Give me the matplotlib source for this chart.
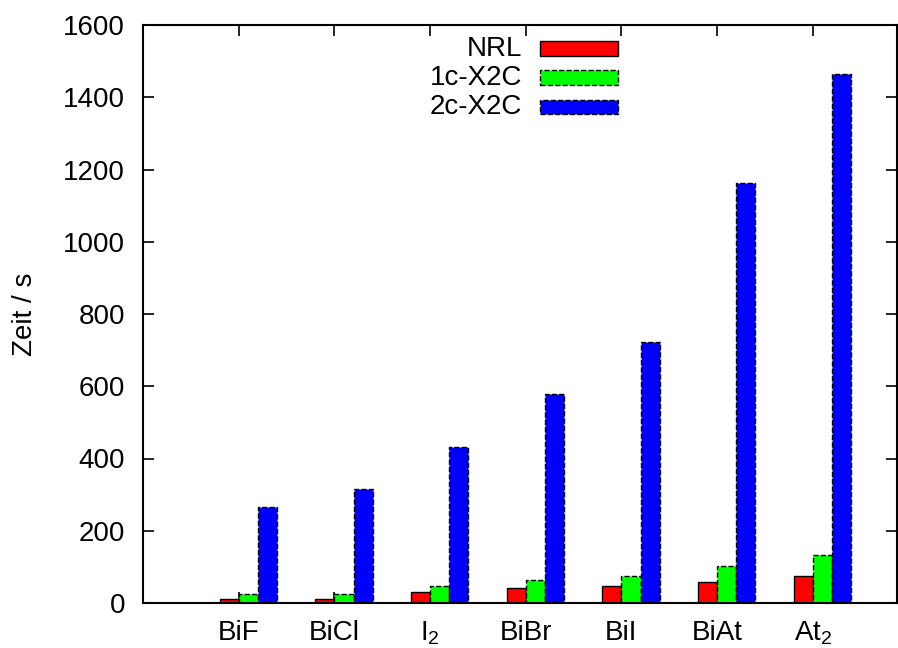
import numpy as np
import matplotlib
matplotlib.use("Agg")
import matplotlib.pyplot as plt
from matplotlib.patches import Rectangle

plt.rcParams['font.family'] = ['Liberation Sans', 'DejaVu Sans']

molecules = ['BiF', 'BiCl', r'$\mathregular{I_2}$', 'BiBr', 'BiI', 'BiAt', r'$\mathregular{At_2}$']
nrl = [10, 12, 31, 41, 46, 59, 75]
x2c_1c = [25, 25, 48, 64, 74, 103, 132]
x2c_2c = [265, 316, 433, 578, 722, 1162, 1464]

series = [
    ('NRL', nrl, '#ff0000', '-'),
    ('1c-X2C', x2c_1c, '#00ff00', '--'),
    ('2c-X2C', x2c_2c, '#0000ff', '--'),
]

fig = plt.figure(figsize=(8.98, 6.48), dpi=100)
ax = fig.add_axes([143 / 898, 1 - 603 / 648, 754 / 898, 578 / 648])

x = np.arange(len(molecules))
w = 0.2
for k, (name, vals, col, ls) in enumerate(series):
    ax.bar(x - w + k * w, vals, width=w, align='edge', color=col,
           edgecolor='black', linewidth=1.0, linestyle=ls, zorder=2)

ax.set_xlim(-1, 6.88)
ax.set_ylim(0, 1600)
ax.set_yticks(range(0, 1601, 200))
ax.set_xticks(x)
ax.set_xticklabels(molecules)
ax.tick_params(axis='both', direction='in', length=8, width=1.2,
               labelsize=20, top=True, right=True)
ax.tick_params(axis='x', pad=12)
ax.tick_params(axis='y', pad=13)
for s in ax.spines.values():
    s.set_linewidth(1.5)
ax.set_ylabel('Zeit / s', fontsize=20, labelpad=18)

# legend drawn by hand: labels right-aligned, swatch on the right
rows_y = [0.9593, 0.909, 0.858]
for (name, vals, col, ls), ry in zip(series, rows_y):
    ax.text(0.5027, ry, name, transform=ax.transAxes, ha='right', va='center',
            fontsize=20)
    ax.add_patch(Rectangle((0.5265, ry - 0.0125), 0.1035, 0.025,
                           transform=ax.transAxes, facecolor=col,
                           edgecolor='black', linewidth=1.0, linestyle=ls,
                           clip_on=False, zorder=3))

fig.savefig('out.png', dpi=100)
